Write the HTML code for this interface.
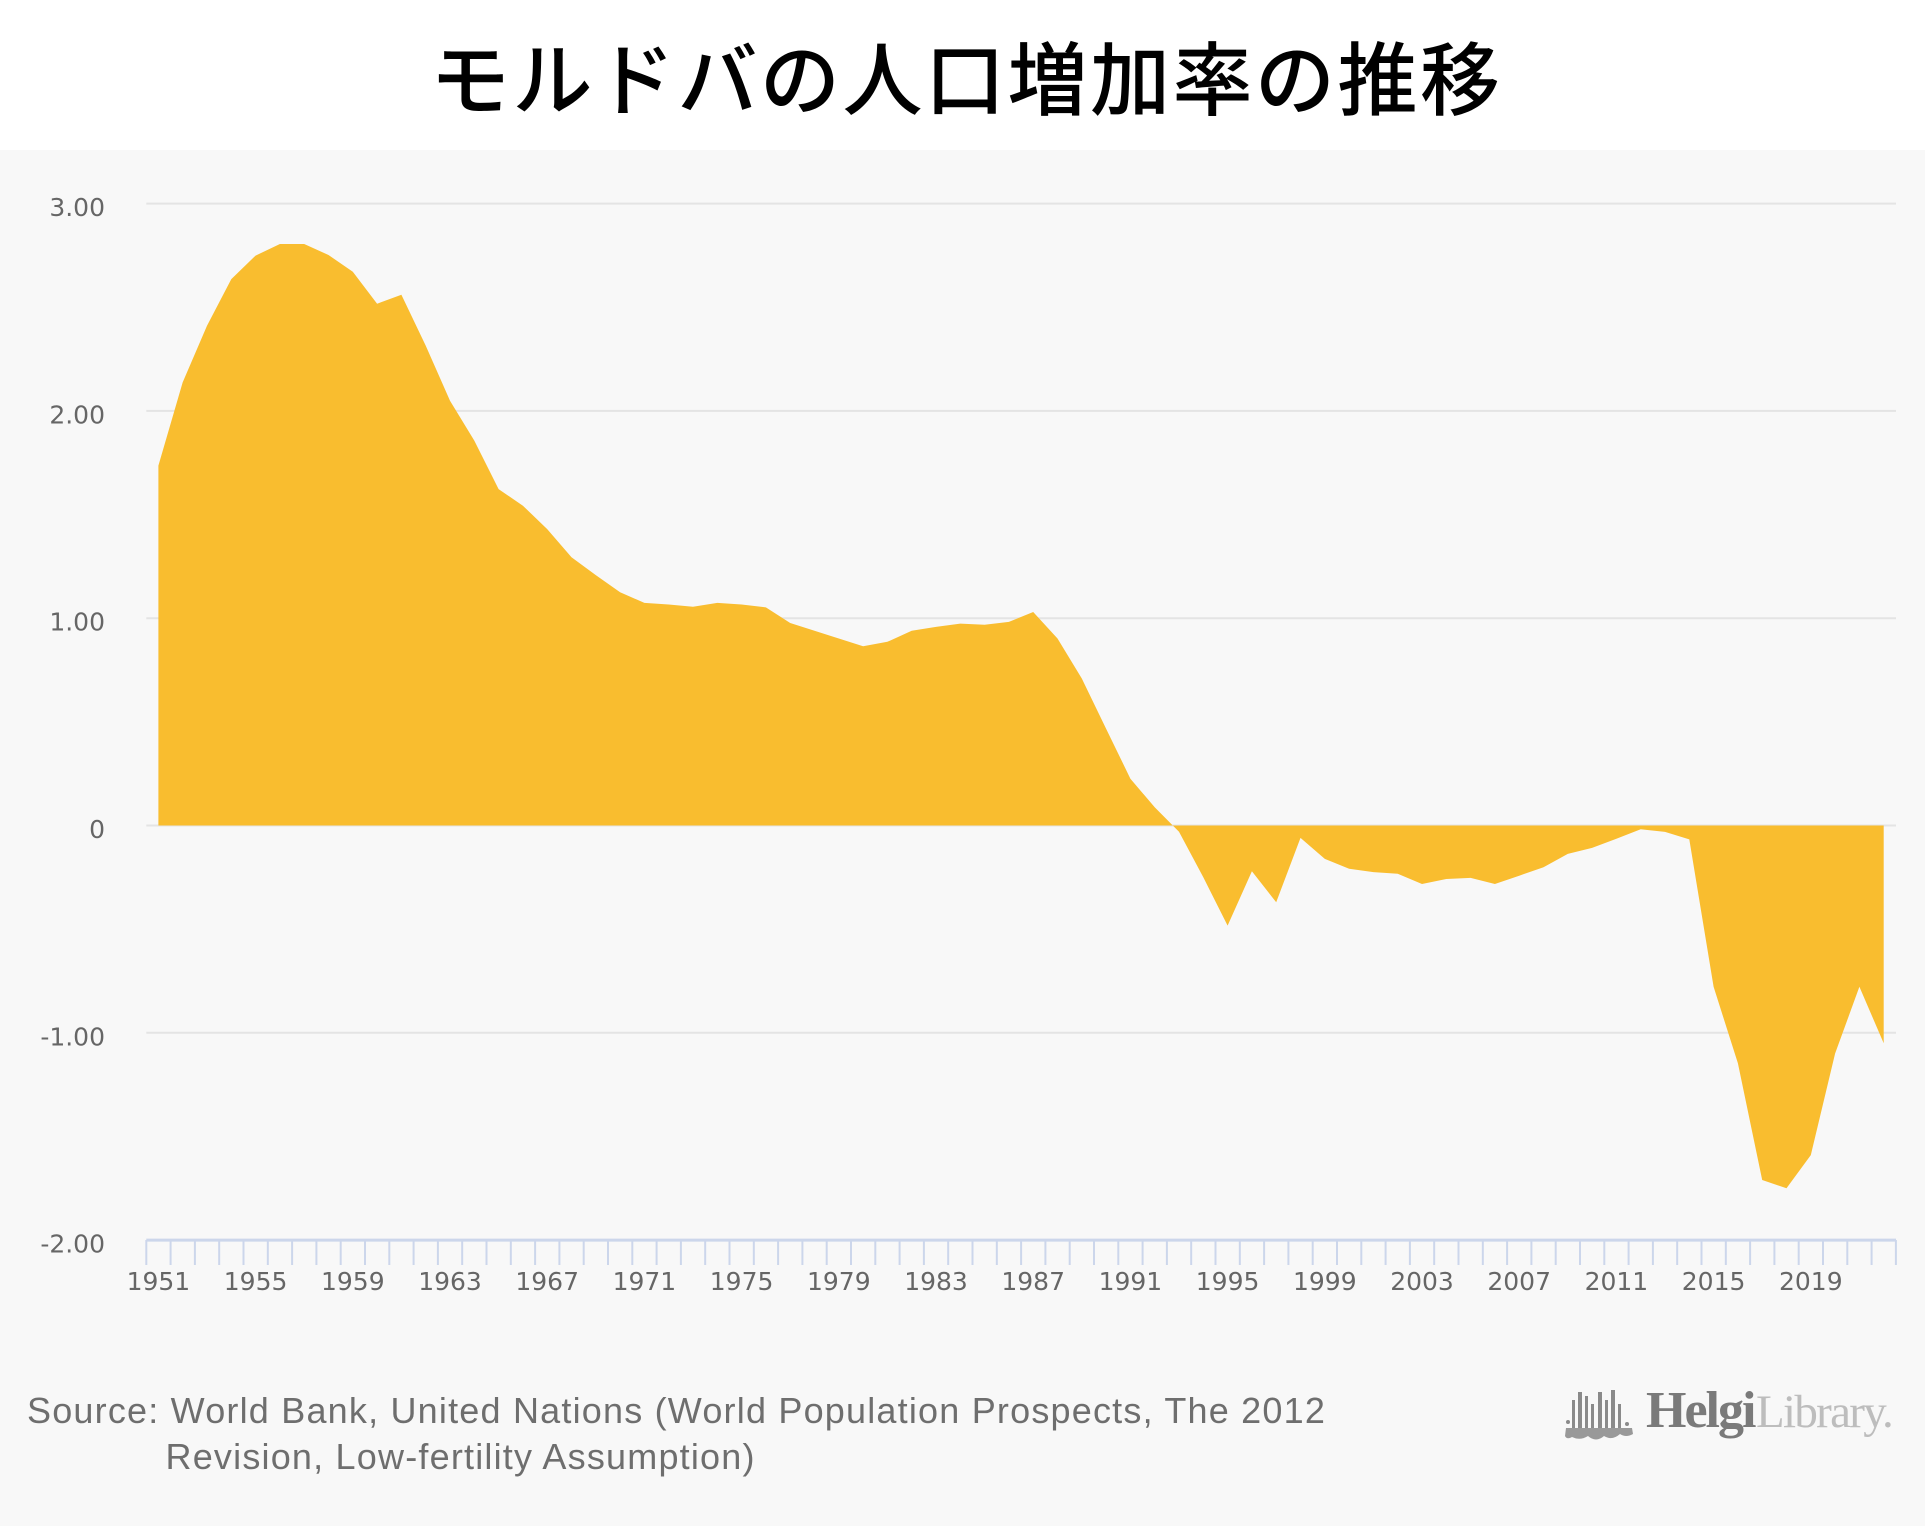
<!DOCTYPE html>
<html>
<head>
<meta charset="utf-8">
<style>
  html, body { margin: 0; padding: 0; background: #ffffff; }
  body { width: 1925px; height: 1526px; overflow: hidden; }
  svg { display: block; }
</style>
</head>
<body>
<svg width="1925" height="1526" viewBox="0 0 1925 1526" xmlns="http://www.w3.org/2000/svg">
  <rect x="0" y="0" width="1925" height="1526" fill="#ffffff"/>
  <rect x="0" y="150" width="1925" height="1376" fill="#f8f8f8"/>

  <!-- Title -->
  <text x="430" y="109" font-family="'Liberation Sans','Noto Sans CJK JP',sans-serif" font-size="80" font-weight="500" fill="#000" textLength="1070" lengthAdjust="spacing">モルドバの人口増加率の推移</text>

  <!-- Gridlines -->
  <g stroke="#e4e4e4" stroke-width="2">
    <line x1="146.3" y1="203.6" x2="1896" y2="203.6"/>
    <line x1="146.3" y1="410.9" x2="1896" y2="410.9"/>
    <line x1="146.3" y1="618.2" x2="1896" y2="618.2"/>
    <line x1="146.3" y1="825.5" x2="1896" y2="825.5"/>
    <line x1="146.3" y1="1032.8" x2="1896" y2="1032.8"/>
  </g>

  <!-- Area -->
  <path fill="#f9bd2f" d="M158.4,825.5 L158.4,465.6 L182.7,382.3 L207.0,325.7 L231.3,279.1 L255.6,255.6 L279.9,244.0 L304.2,244.0 L328.5,255.0 L352.8,271.8 L377.1,303.7 L401.4,294.8 L425.7,345.6 L450.0,400.7 L474.3,440.6 L498.6,489.1 L522.9,505.7 L547.2,529.1 L571.5,557.3 L595.8,575.1 L620.1,592.3 L644.4,602.9 L668.7,604.5 L693.0,606.8 L717.3,602.9 L741.6,604.5 L765.9,607.4 L790.2,623.0 L814.5,630.8 L838.8,638.5 L863.1,646.2 L887.4,641.8 L911.7,630.8 L936.0,626.9 L960.3,623.6 L984.6,624.8 L1008.9,621.9 L1033.2,612.0 L1057.5,638.5 L1081.8,678.5 L1106.1,728.7 L1130.4,778.7 L1154.7,807.3 L1179.0,831.7 L1203.3,877.3 L1227.6,925.6 L1251.9,871.3 L1276.2,902.2 L1300.5,837.9 L1324.8,858.9 L1349.1,868.8 L1373.4,872.1 L1397.7,873.8 L1422.0,884.0 L1446.3,879.0 L1470.6,877.9 L1494.9,884.0 L1519.2,875.7 L1543.5,867.2 L1567.8,853.9 L1592.1,847.9 L1616.4,838.8 L1640.7,829.2 L1665.0,831.9 L1689.3,839.4 L1713.6,986.8 L1737.9,1063.3 L1762.2,1180.0 L1786.5,1188.3 L1810.8,1155.1 L1835.1,1053.5 L1859.4,986.8 L1883.7,1043.2 L1883.7,825.5 Z"/>

  <!-- X axis line -->
  <line x1="146.3" y1="1240.1" x2="1896" y2="1240.1" stroke="#ccd6eb" stroke-width="3"/>

  <!-- Ticks -->
  <g id="ticks" stroke="#ccd6eb" stroke-width="2"></g>

  <!-- Y labels -->
  <g font-family="'DejaVu Sans',sans-serif" font-size="25" fill="#666" text-anchor="end">
    <text x="105" y="216.1">3.00</text>
    <text x="105" y="423.4">2.00</text>
    <text x="105" y="630.7">1.00</text>
    <text x="105" y="838">0</text>
    <text x="105" y="1045.3">-1.00</text>
    <text x="105" y="1252.6">-2.00</text>
  </g>

  <!-- X labels -->
  <g font-family="'DejaVu Sans',sans-serif" font-size="25" fill="#666" text-anchor="middle">
    <text x="158.4" y="1290">1951</text>
    <text x="255.6" y="1290">1955</text>
    <text x="352.8" y="1290">1959</text>
    <text x="450.0" y="1290">1963</text>
    <text x="547.2" y="1290">1967</text>
    <text x="644.4" y="1290">1971</text>
    <text x="741.6" y="1290">1975</text>
    <text x="838.8" y="1290">1979</text>
    <text x="936.0" y="1290">1983</text>
    <text x="1033.2" y="1290">1987</text>
    <text x="1130.4" y="1290">1991</text>
    <text x="1227.6" y="1290">1995</text>
    <text x="1324.8" y="1290">1999</text>
    <text x="1422.0" y="1290">2003</text>
    <text x="1519.2" y="1290">2007</text>
    <text x="1616.4" y="1290">2011</text>
    <text x="1713.6" y="1290">2015</text>
    <text x="1810.8" y="1290">2019</text>
  </g>

  <!-- Source -->
  <g font-family="'Liberation Sans',sans-serif" font-size="36" fill="#6e6e6e" letter-spacing="1.2">
    <text x="27" y="1423">Source: World Bank, United Nations (World Population Prospects, The 2012</text>
    <text x="165.5" y="1469">Revision, Low-fertility Assumption)</text>
  </g>

  <!-- Logo icon -->
  <g fill="#8a8a8a">
    <rect x="1572" y="1400" width="3" height="28"/>
    <rect x="1578" y="1392" width="4" height="36"/>
    <rect x="1585" y="1396" width="3" height="32"/>
    <rect x="1591" y="1404" width="3" height="24"/>
    <rect x="1598" y="1392" width="4" height="36"/>
    <rect x="1605" y="1400" width="3" height="28"/>
    <rect x="1611" y="1390" width="4" height="38"/>
    <rect x="1618" y="1404" width="3" height="24"/>
    <path d="M1566,1428 L1632,1428 L1633,1434 Q1626,1438 1620,1434 Q1612,1441 1604,1436 Q1596,1443 1588,1436 Q1580,1441 1572,1437 Q1567,1440 1565,1436 Z" fill="#999"/>
    <circle cx="1568" cy="1422" r="2"/>
    <circle cx="1627" cy="1424" r="2"/>
  </g>
  <text x="1646" y="1427" font-family="'Liberation Serif',serif" font-size="52" font-weight="700" fill="#7a7a7a" letter-spacing="-2">Helgi</text>
  <text x="1756" y="1427" font-family="'Liberation Serif',serif" font-size="47" fill="#bdbdbd" letter-spacing="-1.7">Library.</text>
</svg>
<script>
  (function(){
    var g = document.getElementById('ticks');
    var ns = 'http://www.w3.org/2000/svg';
    for (var k = 0; k <= 72; k++) {
      var x = 146.3 + k * 24.3;
      var l = document.createElementNS(ns, 'line');
      l.setAttribute('x1', x); l.setAttribute('x2', x);
      l.setAttribute('y1', 1240); l.setAttribute('y2', 1265);
      g.appendChild(l);
    }
  })();
</script>
</body>
</html>
